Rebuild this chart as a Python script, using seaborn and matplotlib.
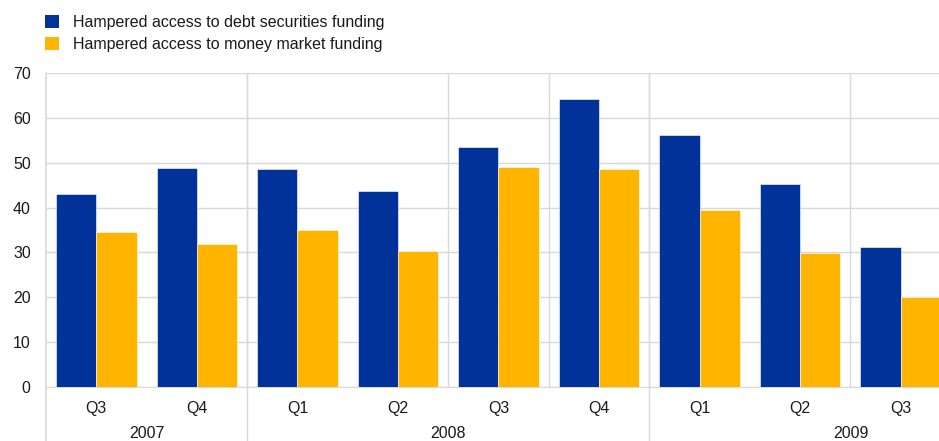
import pandas as pd
import seaborn as sns
import matplotlib.pyplot as plt
from matplotlib.patches import Patch
from matplotlib.transforms import blended_transform_factory

quarters = ["Q3", "Q4", "Q1", "Q2", "Q3", "Q4", "Q1", "Q2", "Q3"]
periods = ["2007Q3", "2007Q4", "2008Q1", "2008Q2", "2008Q3", "2008Q4", "2009Q1", "2009Q2", "2009Q3"]
debt_securities = [43.0, 48.8, 48.6, 43.7, 53.5, 64.2, 56.2, 45.3, 31.2]
money_market = [34.5, 31.8, 34.9, 30.3, 49.0, 48.6, 39.5, 29.9, 20.1]
series_names = ["Hampered access to debt securities funding",
                "Hampered access to money market funding"]
colors = ["#003299", "#FFB400"]
years = ["2007", "2008", "2009"]
year_pos = [0.5, 3.5, 7.5]
year_breaks = [-0.5, 1.5, 5.5]

df = pd.DataFrame({
    "period": periods * 2,
    "value": debt_securities + money_market,
    "series": [series_names[0]] * len(periods) + [series_names[1]] * len(periods),
})

sns.set_style("white")
plt.rcParams["font.family"] = ["Liberation Sans", "DejaVu Sans"]
plt.rcParams["font.size"] = 11.5
text_c = "#1a1a1a"

fig = plt.figure(figsize=(9.39, 4.41), dpi=100)
ax = fig.add_axes([46 / 939, 54 / 441, 905 / 939, 314 / 441])

sns.barplot(data=df, x="period", y="value", hue="series", order=periods,
            hue_order=series_names, palette=colors, saturation=1, width=0.8,
            edgecolor="white", linewidth=0.4, legend=False, ax=ax, zorder=3)

ax.set_xlim(-0.5, 8.5)
ax.set_ylim(0, 70)
ax.set_yticks(range(0, 71, 10))
ax.set_xticks(range(len(quarters)))
ax.set_xticklabels(quarters)
ax.set_xlabel("")
ax.set_ylabel("")
ax.tick_params(axis="both", length=0, colors=text_c, labelsize=11.5)
ax.tick_params(axis="y", pad=11)
ax.tick_params(axis="x", pad=10)

grid_c = "#d9d9d9"
ax.grid(axis="y", color=grid_c, linewidth=1, zorder=0)
for x in [i + 0.5 for i in range(len(periods))]:
    if x - 1 not in year_breaks:
        ax.axvline(x, color=grid_c, linewidth=1, zorder=0)
for x in year_breaks[1:]:
    ax.axvline(x, ymin=-0.2, ymax=1, color=grid_c, linewidth=1, zorder=0, clip_on=False)
ax.axvline(-0.5, ymin=-0.2, ymax=1, color=grid_c, linewidth=1.2, zorder=0, clip_on=False)
for s in ["top", "right", "left"]:
    ax.spines[s].set_visible(False)
ax.spines["bottom"].set_color(grid_c)

trans = blended_transform_factory(ax.transData, ax.transAxes)
for yr, xp in zip(years, year_pos):
    ax.text(xp, -0.148, yr, transform=trans, ha="center", va="center",
            fontsize=11.5, color=text_c)

handles = [Patch(facecolor=c, edgecolor="none") for c in colors]
fig.legend(handles, series_names, loc="upper left", bbox_to_anchor=(39 / 939, 1 - 9 / 441),
           frameon=False, fontsize=11.5, handlelength=0.85, handleheight=0.85,
           handletextpad=0.9, labelspacing=0.42, borderaxespad=0, labelcolor=text_c)

fig.savefig("out.png", dpi=100)
